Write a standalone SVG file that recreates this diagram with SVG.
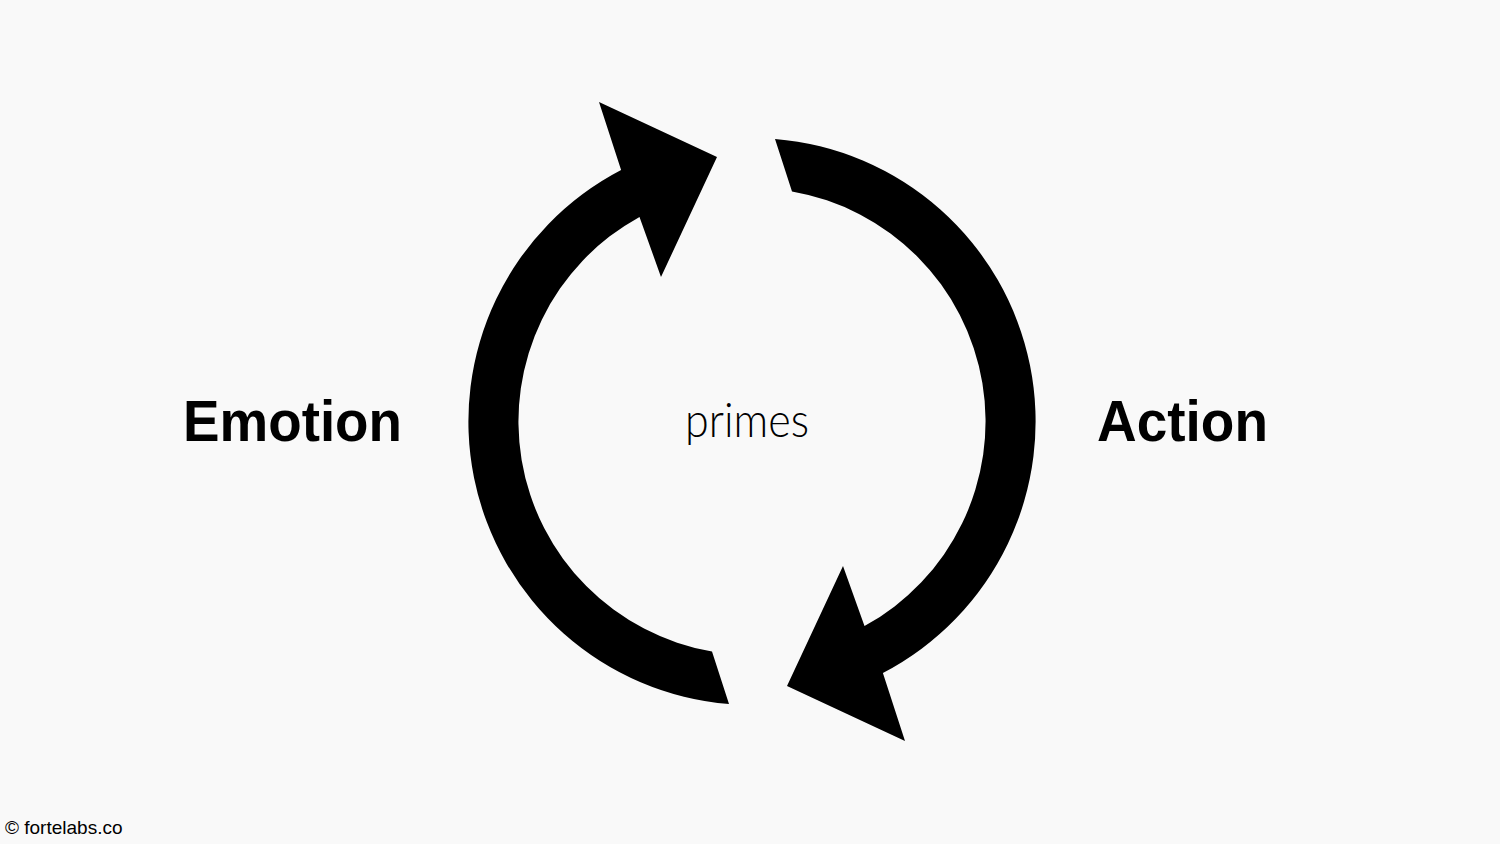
<svg xmlns="http://www.w3.org/2000/svg" xmlns:xlink="http://www.w3.org/1999/xlink" width="1500" height="844" viewBox="0 0 1500 844">
  <style>
    .bold { font-family: "Liberation Sans", Arial, sans-serif; font-weight: 700; font-size: 58px; fill: #000; }
    .light { font-family: "Lato", "Liberation Sans", sans-serif; font-weight: 300; font-size: 47px; fill: #000; }
    .foot { font-family: "Liberation Sans", Arial, sans-serif; font-size: 19px; fill: #000; }
    .arrow { fill: #000; }
  </style>
  <defs>
    <path id="curvedArrow" class="arrow" d="M 729 704.1 A 283.5 283.5 0 0 1 621.1 170 L 599 102 L 717 157 L 661 277 L 639.5 216.9 A 233.5 233.5 0 0 0 712 651.6 Z"/>
  </defs>
  <rect width="1500" height="844" fill="#f9f9f9"/>
  <g id="connectors">
    <use id="arrow-emotion-to-action" xlink:href="#curvedArrow" href="#curvedArrow"/>
    <use id="arrow-action-to-emotion" xlink:href="#curvedArrow" href="#curvedArrow" transform="rotate(180 752 421.5)"/>
  </g>
  <g id="node-emotion">
    <text class="bold" x="183" y="441" textLength="219" lengthAdjust="spacingAndGlyphs">Emotion</text>
  </g>
  <g id="node-action">
    <text class="bold" x="1097" y="441" textLength="171" lengthAdjust="spacingAndGlyphs">Action</text>
  </g>
  <g id="label-primes">
    <text class="light" x="685" y="437" textLength="124" lengthAdjust="spacingAndGlyphs">primes</text>
  </g>
  <g id="footer">
    <text class="foot" x="5" y="834">© fortelabs.co</text>
  </g>
</svg>
